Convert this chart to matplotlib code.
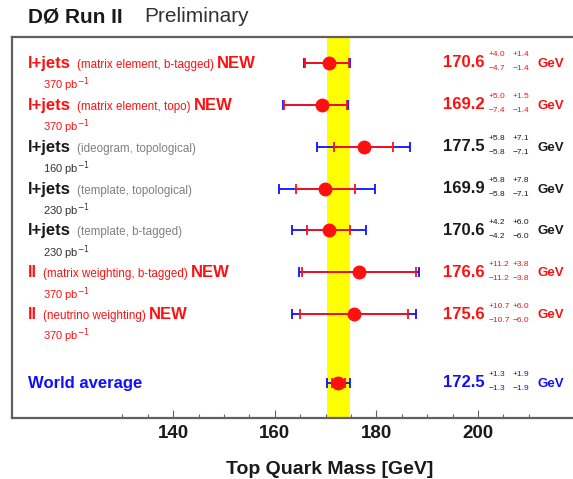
import matplotlib
matplotlib.use("Agg")
import matplotlib.pyplot as plt
from matplotlib.transforms import blended_transform_factory
from matplotlib.ticker import FixedLocator

plt.rcParams['font.family'] = ['Liberation Sans', 'DejaVu Sans']

# ---------------- data ----------------
methods = ["l+jets", "l+jets", "l+jets", "l+jets", "l+jets", "ll", "ll"]
details = ["(matrix element, b-tagged)", "(matrix element, topo)",
           "(ideogram, topological)", "(template, topological)",
           "(template, b-tagged)", "(matrix weighting, b-tagged)",
           "(neutrino weighting)"]
is_new = [True, True, False, False, False, True, True]
lumi = [370, 370, 160, 230, 230, 370, 370]
values = [170.6, 169.2, 177.5, 169.9, 170.6, 176.6, 175.6]
stat_up = [4.0, 5.0, 5.8, 5.8, 4.2, 11.2, 10.7]
stat_dn = [4.7, 7.4, 5.8, 5.8, 4.2, 11.2, 10.7]
syst_up = [1.4, 1.5, 7.1, 7.8, 6.0, 3.8, 6.0]
syst_dn = [1.4, 1.4, 7.1, 7.1, 6.0, 3.8, 6.0]

wa_label = "World average"
wa_value = 172.5
wa_stat = [1.3, 1.3]   # up, down
wa_syst = [1.9, 1.9]

major_ticks = [140, 160, 180, 200]
minor_ticks = [130, 135, 145, 150, 155, 165, 170, 175, 185, 190, 195, 205, 210]

# ---------------- layout ----------------
W, H = 573, 479
fig = plt.figure(figsize=(W / 100, H / 100), dpi=100)
ax_left, ax_top, ax_bottom = 12, 37, 418
xmin, xmax = 108.25, 225.0
px_per_gev = 5.08
ax_w = (xmax - xmin) * px_per_gev
ax = fig.add_axes([ax_left / W, 1 - ax_bottom / H, ax_w / W, (ax_bottom - ax_top) / H])
ymax = 9.1
ax.set_xlim(xmin, xmax)
ax.set_ylim(0, ymax)
ppu = (ax_bottom - ax_top) / ymax  # px per y unit


def py(px):
    return px / ppu


n = len(values)
ys = [8.48 - i * 1.0 for i in range(n)]
y_wa = 0.84

RED = "#ff1010"
BLUE = "#1010ff"
BLACK = "#1a1a1a"
GRAY = "#808080"

# yellow band (world average total uncertainty)
tot_wa_up = (wa_stat[0] ** 2 + wa_syst[0] ** 2) ** 0.5
tot_wa_dn = (wa_stat[1] ** 2 + wa_syst[1] ** 2) ** 0.5
ax.axvspan(wa_value - tot_wa_dn, wa_value + tot_wa_up, color="#ffff00", zorder=0, lw=0)

tot_up = [(a ** 2 + b ** 2) ** 0.5 for a, b in zip(stat_up, syst_up)]
tot_dn = [(a ** 2 + b ** 2) ** 0.5 for a, b in zip(stat_dn, syst_dn)]

eb_kw = dict(fmt='none', elinewidth=1.3, capsize=3.6, capthick=1.3)
ax.errorbar(values, ys, xerr=[tot_dn, tot_up], ecolor=BLUE, zorder=2, **eb_kw)
ax.errorbar(values, ys, xerr=[stat_dn, stat_up], ecolor=RED, zorder=3, **eb_kw)
ax.errorbar([wa_value], [y_wa], xerr=[[tot_wa_dn], [tot_wa_up]], ecolor=BLUE, zorder=2, **eb_kw)
ax.errorbar([wa_value], [y_wa], xerr=[[wa_stat[1]], [wa_stat[0]]], ecolor=RED, zorder=3, **eb_kw)
ax.plot(values + [wa_value], ys + [y_wa], 'o', color=RED, markersize=9, zorder=4, mec=RED)

# axes styling
for s in ax.spines.values():
    s.set_color("#606060")
    s.set_linewidth(1.6)
ax.set_yticks([])
ax.xaxis.set_major_locator(FixedLocator(major_ticks))
ax.xaxis.set_minor_locator(FixedLocator(minor_ticks))
ax.tick_params(axis='x', which='major', direction='in', length=6, width=0.8,
               color="#606060", pad=5, labelsize=13.5)
ax.tick_params(axis='x', which='minor', direction='in', length=3, width=0.8, color="#606060")
for lab in ax.get_xticklabels():
    lab.set_fontweight('bold')
    lab.set_color(BLACK)
ax.set_xlabel("Top Quark Mass [GeV]", fontsize=14, fontweight='bold', color=BLACK)
ax.xaxis.label.set_va('center')
ax.xaxis.set_label_coords((330 - ax_left) / ax_w, -(469 - ax_bottom) / (ax_bottom - ax_top))

# title
fig.text(28 / W, 1 - 17 / H, "DØ Run II", fontsize=15, fontweight='bold', color=BLACK, va='center')
fig.text(144 / W, 1 - 17 / H, "Preliminary", fontsize=15, color="#333333", va='center')

tr = blended_transform_factory(fig.transFigure, ax.transData)
fig.canvas.draw()
renderer = fig.canvas.get_renderer()


def right_edge_px(t):
    bb = t.get_window_extent(renderer)
    return bb.x1


# left labels
for i in range(n):
    c = RED if is_new[i] else BLACK
    dc = RED if is_new[i] else GRAY
    y = ys[i]
    t1 = ax.text(28 / W, y - py(5), methods[i], transform=tr, fontsize=12, fontweight='bold',
                 color=c, va='baseline', ha='left')
    x2 = right_edge_px(t1) + 6
    t2 = ax.text(x2 / W, y - py(5), details[i], transform=tr, fontsize=8.4, color=dc,
                 va='baseline', ha='left')
    if is_new[i]:
        x3 = right_edge_px(t2) + 3
        ax.text(x3 / W, y - py(5), "NEW", transform=tr, fontsize=12, fontweight='bold',
                color=RED, va='baseline', ha='left')
    ax.text(43 / W, y - py(22), f"{lumi[i]} pb$^{{-1}}$", transform=tr, fontsize=8,
            color=(RED if is_new[i] else "#333333"), va='center', ha='left')

ax.text(28 / W, y_wa - py(5), wa_label, transform=tr, fontsize=12, fontweight='bold',
        color=BLUE, va='baseline', ha='left')


# right-hand values
def value_text(y, v, su, sd, yu, yd, c):
    ax.text(485 / W, y - py(4.5), f"{v:.1f}", transform=tr, fontsize=12, fontweight='bold',
            color=c, va='baseline', ha='right')
    ax.text(489 / W, y + py(8), f"+{su:.1f}", transform=tr, fontsize=6, color=c,
            va='center', ha='left')
    ax.text(489 / W, y - py(6), f"\u2212{sd:.1f}", transform=tr, fontsize=6, color=c,
            va='center', ha='left')
    ax.text(513 / W, y + py(8), f"+{yu:.1f}", transform=tr, fontsize=6, color=c,
            va='center', ha='left')
    ax.text(513 / W, y - py(6), f"\u2212{yd:.1f}", transform=tr, fontsize=6, color=c,
            va='center', ha='left')
    ax.text(538 / W, y - py(4), "GeV", transform=tr, fontsize=9.5, fontweight='bold',
            color=c, va='baseline', ha='left')


for i in range(n):
    c = RED if is_new[i] else BLACK
    value_text(ys[i], values[i], stat_up[i], stat_dn[i], syst_up[i], syst_dn[i], c)
value_text(y_wa, wa_value, wa_stat[0], wa_stat[1], wa_syst[0], wa_syst[1], BLUE)

fig.savefig("out.png", dpi=100)
